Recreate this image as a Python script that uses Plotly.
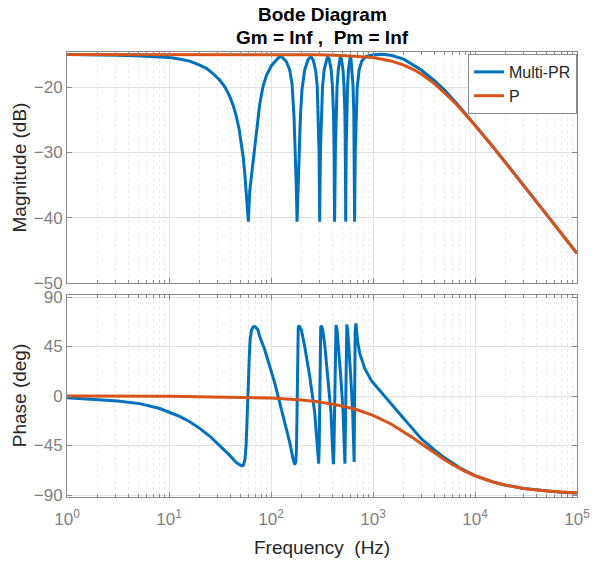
import plotly.graph_objects as go

# ---------------- data ----------------
freq_pr_mag = [1, 2, 3.14, 5.16, 7, 10.2, 13, 15.96, 20, 23.3, 27, 31.4, 35.5, 39.4, 43, 45.8,
               48.8, 51.3, 53.5, 55.3, 57, 58.2, 59.3, 60,
               61.8, 64, 66.6, 69.2, 73.6, 77.5, 83.5, 90.1, 100.9, 112.9, 119, 126.5,
               141.6, 152.5, 160.7, 168.1, 173.5, 177.4, 180,
               183.9, 188.1, 194.2, 201.3, 214.0, 230.6, 245.1,
               259.3, 274.3, 283.8, 290.9, 295.5, 298.2, 300,
               302.3, 305.7, 311.3, 319.8, 332.3, 347.7, 358.0,
               372.1, 389.3, 399.9, 410.0, 415.6, 418.4, 420,
               424.2, 428.0, 433.9, 443.8, 457.0, 469.6, 478.1,
               491.3, 508.2, 519.8, 530.4, 535.2, 537.6, 540,
               542.5, 546.2, 552.4, 562.3, 575.2, 588.3, 597.7,
               608.6, 624.0, 636.8, 648.4, 654.3, 657.2, 660,
               664.6, 670.8, 681.4, 700.1, 732.4, 774.8, 848, 971, 1200, 1500, 2000,
               3000, 4000, 5000, 7000, 10000, 15000, 20000, 30000, 50000, 70000, 100000]
mag_pr = [-15.0, -15.03, -15.08, -15.2, -15.3, -15.45, -15.7, -16.0, -16.6, -17.1, -17.9, -18.9, -20.0, -21.4, -23.0, -24.5,
          -26.5, -28.6, -30.8, -33.2, -35.5, -37.2, -39.0, -40.6,
          -36.0, -33.5, -31.5, -29.3, -25.8, -22.6, -19.9, -18.2, -16.7, -15.8, -15.45, -15.25,
          -16.1, -17.35, -19.4, -24.5, -29.6, -35.7, -40.6,
          -35.7, -29.6, -24.5, -20.4, -17.35, -15.8, -15.3,
          -15.8, -17.5, -19.8, -24.0, -29.5, -35.0, -40.6,
          -35.0, -29.5, -24.0, -20.0, -17.3, -15.8, -15.3,
          -15.7, -17.4, -19.8, -24.0, -29.5, -35.0, -40.6,
          -35.0, -29.5, -24.0, -20.0, -17.3, -15.8, -15.3,
          -15.7, -17.4, -19.8, -24.0, -29.5, -35.0, -40.6,
          -35.0, -29.5, -24.0, -20.0, -17.3, -15.8, -15.3,
          -15.7, -17.4, -19.8, -24.0, -29.5, -35.0, -40.6,
          -35.0, -29.5, -24.0, -20.0, -17.3, -16.0, -15.3, -15.05, -14.95, -15.1, -15.7,
          -17.4, -19.0, -20.4, -22.9, -25.75, -29.1, -31.55, -35.04, -39.45, -42.37, -45.46]

freq_pr_phase = [1, 2, 3.14, 5.16, 6.46, 8.12, 10.2, 12.7, 15.96, 20.0, 25.2, 31.4, 39.4, 45.8, 49, 51.3,
                 53.5, 55.5, 57, 58.3, 59.3, 60.2, 61.2, 62.5, 64.4, 67, 70, 74.6,
                 77.5, 86.8, 97.1, 108.7, 121.7, 136.2, 152.5, 164.3, 170.8,
                 175, 177.4, 179, 180, 181.4, 183, 185, 188.2,
                 198.6, 214, 239.6, 268.2, 285, 293.5,
                 297, 299, 300, 301, 303, 307.1, 312,
                 321.9, 337.6, 361.3, 387.4, 399.9, 409.1,
                 414, 418, 420, 422, 424.2, 429, 433.9,
                 443.8, 459.1, 482.4, 509.3, 522, 530.4,
                 535.2, 538, 540, 543.7, 548.6, 553.6,
                 564.9, 580.4, 604.5, 632.4, 644, 652.8,
                 657.2, 660, 663.3, 669.3, 680,
                 692.3, 707.9, 740.7, 783.7, 829.3, 964.5, 1209, 1515, 1898, 2380, 2982,
                 4000, 5000, 7000, 10000, 15000, 20000, 30000, 50000, 70000, 100000]
phase_pr = [-1.5, -3.0, -4.6, -6.9, -9.0, -11.4, -15.0, -18.6, -23.4, -29.4, -36.6, -45.0, -54.0, -60.6, -62.8, -63.5,
            -63.0, -58.0, -45.0, -25.0, -5.0, 15.0, 35.0, 52.0, 60.0, 63.0, 63.0, 60.0,
            54.0, 42.0, 27.0, 12.0, -6.0, -24.0, -42.0, -57.0, -62.4,
            -60.0, -50.0, -30.0, -10.0, 30.0, 55.0, 62.0, 64.0,
            60.0, 45.0, 18.0, -15.0, -45.0, -61.5,
            -45.0, -20.0, 0.0, 25.0, 50.0, 62.0, 64.0,
            60.0, 45.0, 18.0, -15.0, -45.0, -62.0,
            -50.0, -20.0, 0.0, 25.0, 45.0, 60.0, 64.5,
            60.0, 45.0, 18.0, -15.0, -45.0, -61.5,
            -35.0, -10.0, 5.0, 35.0, 60.0, 65.0,
            60.0, 45.0, 18.0, -15.0, -45.0, -60.0,
            -25.0, 0.0, 35.0, 60.0, 66.0,
            58.0, 49.0, 39.0, 31.0, 25.0, 14.0, 3.0, -7.5, -18.0, -28.5, -39.0,
            -49.0, -56.0, -65.0, -72.3, -78.1, -81.05, -84.01, -86.40, -87.42, -88.20]

freq_p = [1, 10, 100, 200, 300, 500, 700, 1000, 1500, 2000, 2500, 3000, 4000, 5000, 6000,
          7000, 8000, 10000, 15000, 20000, 30000, 50000, 70000, 100000]
mag_p = [-15.00, -15.00, -15.00, -15.02, -15.04, -15.12, -15.23, -15.46, -15.97, -16.60, -17.29,
         -18.01, -19.44, -20.77, -21.99, -23.09, -24.09, -25.83, -29.15, -31.57, -35.04, -39.45,
         -42.37, -45.46]
phase_p = [-0.02, -0.18, -1.82, -3.63, -5.44, -9.02, -12.53, -17.61, -25.46, -32.41, -38.44,
           -43.6, -51.78, -57.79, -62.30, -65.77, -68.51, -72.51, -78.14, -81.05, -84.01,
           -86.40, -87.42, -88.20]

series_names = ["Multi-PR", "P"]
series_colors = ["#0072BD", "#D95319"]

x_tick_vals = [1, 10, 100, 1000, 10000, 100000]
x_tick_text = ["10<sup>0</sup>", "10<sup>1</sup>", "10<sup>2</sup>", "10<sup>3</sup>",
               "10<sup>4</sup>", "10<sup>5</sup>"]
mag_ticks = [-50, -40, -30, -20]
phase_ticks = [-90, -45, 0, 45, 90]

# ---------------- figure ----------------
FONT = "Liberation Sans, Arial, Helvetica, sans-serif"
AX = "#8a8a8a"
GRID = "#e1e1e1"
MINOR = "#ebebeb"
TXT = "#7f7f7f"

fig = go.Figure()
fig.add_trace(go.Scatter(x=freq_pr_mag, y=mag_pr, mode="lines", name=series_names[0],
                         line=dict(color=series_colors[0], width=3), xaxis="x", yaxis="y"))
fig.add_trace(go.Scatter(x=freq_p, y=mag_p, mode="lines", name=series_names[1],
                         line=dict(color=series_colors[1], width=3), xaxis="x", yaxis="y"))
fig.add_trace(go.Scatter(x=freq_pr_phase, y=phase_pr, mode="lines", name=series_names[0],
                         line=dict(color=series_colors[0], width=3), xaxis="x2", yaxis="y2",
                         showlegend=False))
fig.add_trace(go.Scatter(x=freq_p, y=phase_p, mode="lines", name=series_names[1],
                         line=dict(color=series_colors[1], width=3), xaxis="x2", yaxis="y2",
                         showlegend=False))

plot_h = 563 - 52 - 65.5
top_dom = [1 - (283.3 - 52) / plot_h, 1]
bot_dom = [0, 1 - (295.3 - 52) / plot_h]

common_x = dict(type="log", range=[0, 5], showline=True, linecolor=AX, linewidth=1,
                mirror="ticks", ticks="inside", ticklen=5, tickcolor=AX,
                tickvals=x_tick_vals, showgrid=True, gridcolor=GRID, gridwidth=1,
                zeroline=False, automargin=False,
                minor=dict(dtick="D1", ticks="inside", ticklen=3, tickcolor=AX,
                           showgrid=True, gridcolor=MINOR, griddash="dot", gridwidth=1))
common_y = dict(showline=True, linecolor=AX, linewidth=1, mirror="ticks", ticks="inside",
                ticklen=5, tickcolor=AX, showgrid=True, gridcolor=GRID, gridwidth=1,
                zeroline=False, automargin=False,
                tickfont=dict(family=FONT, size=17, color=TXT))

fig.update_layout(
    width=592, height=563,
    margin=dict(l=67.3, r=15.3, t=52, b=65.5, autoexpand=False),
    paper_bgcolor="white", plot_bgcolor="white",
    font=dict(family=FONT, size=17, color="#262626"),
    showlegend=True,
    xaxis=dict(common_x, domain=[0, 1], anchor="y", showticklabels=False),
    yaxis=dict(common_y, domain=top_dom, anchor="x", range=[-50, -14.6], tickvals=mag_ticks),
    xaxis2=dict(common_x, domain=[0, 1], anchor="y2", ticktext=x_tick_text,
                tickfont=dict(family=FONT, size=17, color=TXT), ticklabelstandoff=7),
    yaxis2=dict(common_y, domain=bot_dom, anchor="x2", range=[-91.8, 91.8], tickvals=phase_ticks),
    legend=dict(x=1, xanchor="right", y=1 - 2 / plot_h, yanchor="top",
                bgcolor="white", bordercolor=AX, borderwidth=1,
                font=dict(family=FONT, size=16, color="#262626"),
                tracegroupgap=0, itemwidth=30),
    annotations=[
        dict(text="<b>Bode Diagram</b>", xref="paper", yref="paper",
             x=(322 - 67.3) / 509.4, y=1 + (52 - 14) / plot_h, xanchor="center", yanchor="middle",
             showarrow=False, font=dict(family=FONT, size=19, color="black")),
        dict(text="<b>Gm = Inf ,  Pm = Inf</b>", xref="paper", yref="paper",
             x=(322 - 67.3) / 509.4, y=1 + (52 - 37) / plot_h, xanchor="center", yanchor="middle",
             showarrow=False, font=dict(family=FONT, size=19, color="black")),
        dict(text="Magnitude (dB)", xref="paper", yref="paper", textangle=-90,
             x=(20 - 67.3) / 509.4, y=1 - (168 - 52) / plot_h, xanchor="center", yanchor="middle",
             showarrow=False, font=dict(family=FONT, size=19, color="#262626")),
        dict(text="Phase (deg)", xref="paper", yref="paper", textangle=-90,
             x=(20 - 67.3) / 509.4, y=1 - (396 - 52) / plot_h, xanchor="center", yanchor="middle",
             showarrow=False, font=dict(family=FONT, size=19, color="#262626")),
        dict(text="Frequency  (Hz)", xref="paper", yref="paper",
             x=(322 - 67.3) / 509.4, y=1 - (548 - 52) / plot_h, xanchor="center", yanchor="middle",
             showarrow=False, font=dict(family=FONT, size=19, color="#262626")),
    ],
)

fig.write_html("out.html", config={"displayModeBar": False},
               post_script="document.body.style.margin='0px';document.body.style.overflow='hidden';")
